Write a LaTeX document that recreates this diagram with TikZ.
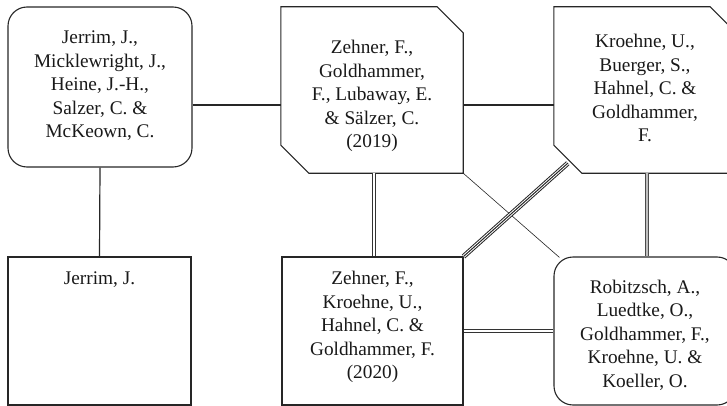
\documentclass[tikz,border=0pt]{standalone}
\usepackage{fontspec}
\setmainfont{Liberation Serif}
\usetikzlibrary{calc}
\begin{document}
\begin{tikzpicture}[x=1pt,y=-1pt,
 txt/.style={font=\fontsize{19.3}{23.5}\selectfont, text=black!90, align=center, inner sep=0pt},
 boxline/.style={draw=black!85, line width=1.1pt},
 rbox/.style={boxline, rectangle, rounded corners=19pt, inner sep=0pt},
 sbox/.style={boxline, rectangle, inner sep=0pt},
 cbox/.style={rectangle, draw=none, inner sep=0pt},
 single/.style={draw=black!85, line width=1.2pt},
 dbl/.style={draw=black!80, line width=0.9pt, double=white, double distance=1.6pt},
 gdbl/.style={draw=gray!60!black, line width=1pt, double=gray!50, double distance=1.4pt},
 thinline/.style={draw=black!85, line width=0.6pt}]
\clip (0,0) rectangle (727,406);
% boxes
\node[rbox, minimum width=184pt, minimum height=160pt,
  label={[txt, yshift=1pt]center:{Jerrim, J.,\\Micklewright, J.,\\Heine, J.-H.,\\Salzer, C. \&\\McKeown, C.}}] (b1) at (100,87) {};
\node[sbox, minimum width=183pt, minimum height=148pt,
  label={[txt, anchor=north, yshift=-15pt]north:{Jerrim, J.}}] (b4) at (99.5,331) {};
\node[cbox, minimum width=182pt, minimum height=166pt,
  label={[txt, yshift=-6pt]center:{Zehner, F.,\\Goldhammer,\\F., Lubaway, E.\\\& Sälzer, C.\\(2019)}}] (b2) at (372,90) {};
\node[cbox, minimum width=182pt, minimum height=166pt,
  label={[txt, yshift=2pt]center:{Kroehne, U.,\\Buerger, S.,\\Hahnel, C. \&\\Goldhammer,\\F.}}] (b3) at (645,90) {};
\node[sbox, minimum width=181pt, minimum height=148pt,
  label={[txt, yshift=4pt]center:{Zehner, F.,\\Kroehne, U.,\\Hahnel, C. \&\\Goldhammer, F.\\(2020)}}] (b5) at (372.5,331) {};
\node[rbox, minimum width=182pt, minimum height=148pt,
  label={[txt, yshift=-4pt]center:{Robitzsch, A.,\\Luedtke, O.,\\Goldhammer, F.,\\Kroehne, U. \&\\Koeller, O.}}] (b6) at (645,331) {};
% chamfered outlines
\draw[boxline] (b2.north west) -- ([xshift=-26pt]b2.north east) -- ([yshift=-26pt]b2.north east)
  -- (b2.south east) -- ([xshift=28pt]b2.south west) -- ([yshift=28pt]b2.south west) -- cycle;
\draw[boxline] (b3.north west) -- ([xshift=-26pt]b3.north east) -- ([yshift=-26pt]b3.north east)
  -- (b3.south east) -- ([xshift=28pt]b3.south west) -- ([yshift=28pt]b3.south west) -- cycle;
% connectors
\draw[single] ([yshift=-18pt]b1.east) -- ([yshift=-15pt]b2.west);
\draw[single] ([yshift=-15pt]b2.east) -- ([yshift=-15pt]b3.west);
\draw[single] (b1.south) -- (b4.north);
\draw[dbl] ([xshift=2pt]b2.south) -- ([xshift=1.5pt]b5.north);
\draw[gdbl] ([xshift=2pt]b3.south) -- ([xshift=2pt]b6.north);
\draw[dbl] (b5.east) -- (b6.west);
\draw[thinline] (b2.south east) -- ([shift={(6pt,-1pt)}]b6.north west);
\draw[black!85, line width=5pt] (b5.north east) -- ([shift={(14pt,10pt)}]b3.south west);
\draw[white, line width=3pt] (b5.north east) -- ([shift={(14pt,10pt)}]b3.south west);
\draw[black!85, line width=1pt] (b5.north east) -- ([shift={(14pt,10pt)}]b3.south west);
\end{tikzpicture}
\end{document}
